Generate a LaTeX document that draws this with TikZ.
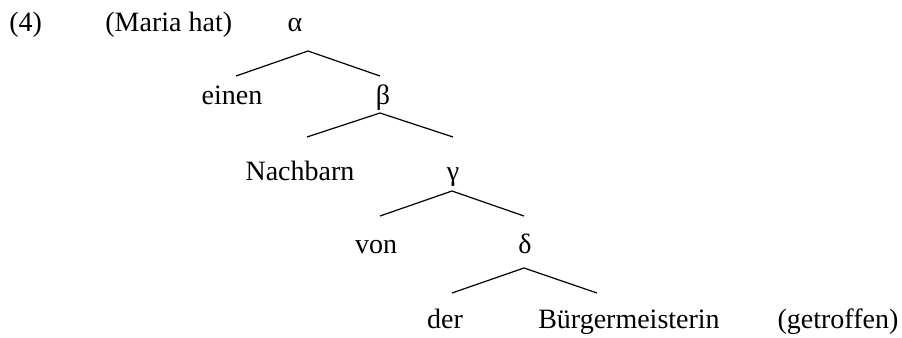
\documentclass[tikz,border=0pt]{standalone}
\usepackage{fontspec}
\setmainfont{Liberation Serif}
\usetikzlibrary{positioning}

\begin{document}
\begin{tikzpicture}[
    x=0.5pt,y=-0.5pt,
    word/.style={inner sep=0pt,anchor=base,font=\fontsize{14}{16}\selectfont},
    branch/.style={line width=0.6pt}]
  \useasboundingbox (0,0) rectangle (902,338);
  % labels
  \node[word,anchor=base west] (num) at (9,31) {(4)};
  \node[word,anchor=base west] (maria) at (105,31) {(Maria hat)};
  \node[word] (alpha) at (295,31) {α};
  \node[word] (einen) at (232,104) {einen};
  \node[word] (beta) at (383,104) {β};
  \node[word] (nachbarn) at (300,180) {Nachbarn};
  \node[word] (gamma) at (453,180) {γ};
  \node[word] (von) at (376,253) {von};
  \node[word] (delta) at (525,253) {δ};
  \node[word] (der) at (445,328) {der};
  \node[word] (buerg) at (629,328) {Bürgermeisterin};
  \node[word] (getr) at (838,328) {(getroffen)};
  % branch points
  \coordinate (alpha-top) at (308,51);
  \coordinate (alpha-l) at (236,76);
  \coordinate (alpha-r) at (380,76);
  \coordinate (beta-top) at (380,113);
  \coordinate (beta-l) at (307,137);
  \coordinate (beta-r) at (453,137);
  \coordinate (gamma-top) at (452,191);
  \coordinate (gamma-l) at (380,216);
  \coordinate (gamma-r) at (524,216);
  \coordinate (delta-top) at (524,268);
  \coordinate (delta-l) at (452,293);
  \coordinate (delta-r) at (597,293);
  \draw[branch] (alpha-l) -- (alpha-top) -- (alpha-r);
  \draw[branch] (beta-l) -- (beta-top) -- (beta-r);
  \draw[branch] (gamma-l) -- (gamma-top) -- (gamma-r);
  \draw[branch] (delta-l) -- (delta-top) -- (delta-r);
\end{tikzpicture}
\end{document}
